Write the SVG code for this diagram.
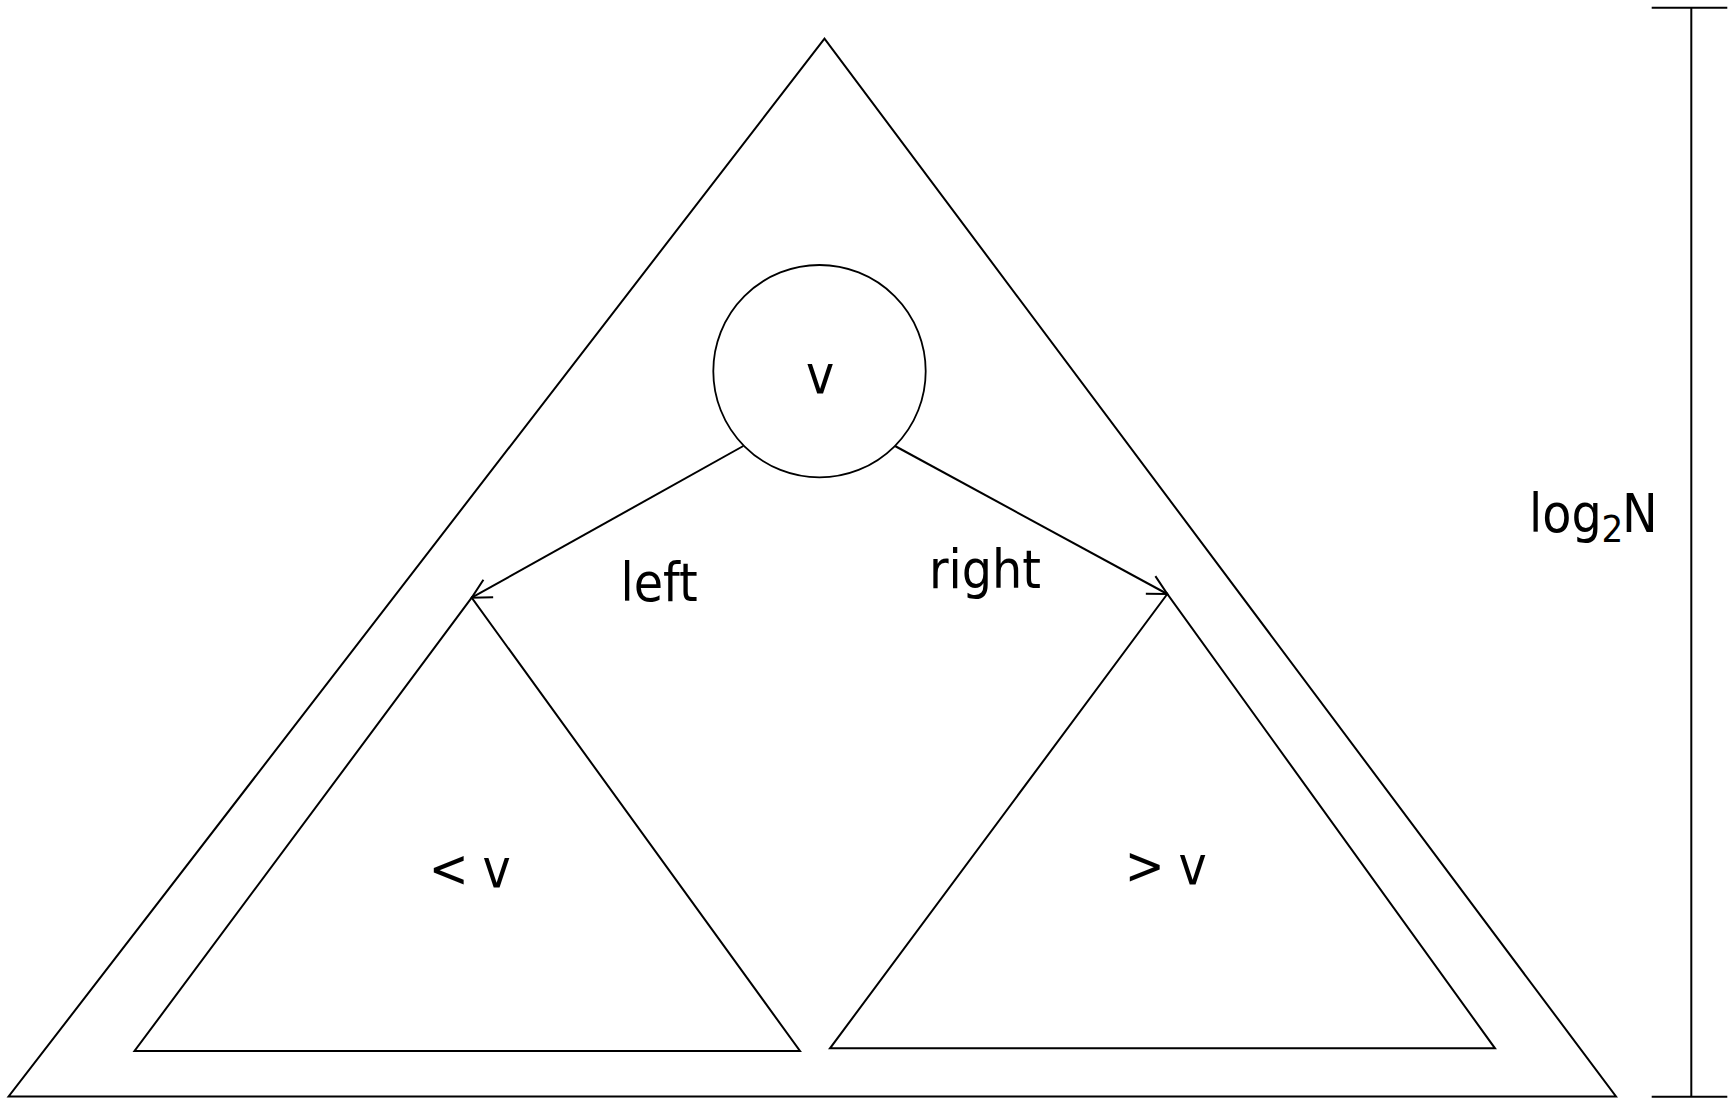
<svg xmlns="http://www.w3.org/2000/svg" width="1733" height="1099" viewBox="0 0 1733 1099">
<style>
.s{fill:none;stroke:#000;stroke-width:2;stroke-linejoin:miter}
.c{fill:#fff;stroke:#000;stroke-width:1.8}
.t{font-family:"DejaVu Sans Condensed","DejaVu Sans","Liberation Sans",sans-serif;font-stretch:condensed;font-size:53px;fill:#000}
</style>
<defs>
<marker id="open" viewBox="-22 -12 24 24" refX="0" refY="0" markerWidth="24" markerHeight="24" markerUnits="userSpaceOnUse" orient="auto" overflow="visible">
<path d="M-19,-10 L0,0 L-19,10" fill="none" stroke="#000" stroke-width="2"/>
</marker>
</defs>
<rect width="1733" height="1099" fill="#fff"/>
<g id="tree">
<polygon class="s" points="824.5,38.7 8.6,1096.5 1616,1096.5"/>
</g>
<g id="left-subtree">
<polygon class="s" points="471.7,597.7 134.5,1051 800,1051"/>
<text class="t" x="428.7" y="887">&lt;</text>
<text class="t" x="482.4" y="887">v</text>
</g>
<g id="right-subtree">
<polygon class="s" points="1167.3,594 830,1048.3 1495,1048.3"/>
<text class="t" x="1124.7" y="884">&gt;</text>
<text class="t" x="1178.4" y="884">v</text>
</g>
<g id="connectors">
<line class="s" x1="743.3" y1="446" x2="471.7" y2="597.7" marker-end="url(#open)"/>
<line class="s" x1="895" y1="446" x2="1167.3" y2="594" marker-end="url(#open)"/>
<text class="t" x="620.5" y="601">left</text>
<text class="t" x="929" y="588">right</text>
</g>
<g id="root">
<circle class="c" cx="819.5" cy="371.2" r="106.2"/>
<text class="t" x="820" y="393" text-anchor="middle">v</text>
</g>
<g id="height">
<line class="s" x1="1691.3" y1="7.7" x2="1691.3" y2="1096.7"/>
<line class="s" x1="1651.7" y1="7.7" x2="1727.3" y2="7.7"/>
<line class="s" x1="1651.7" y1="1096.7" x2="1727.3" y2="1096.7"/>
<text class="t" x="1529" y="531.7">log<tspan x="1601.5" y="541.5" font-size="38">2</tspan><tspan x="1622" y="531.7">N</tspan></text>
</g>
</svg>
